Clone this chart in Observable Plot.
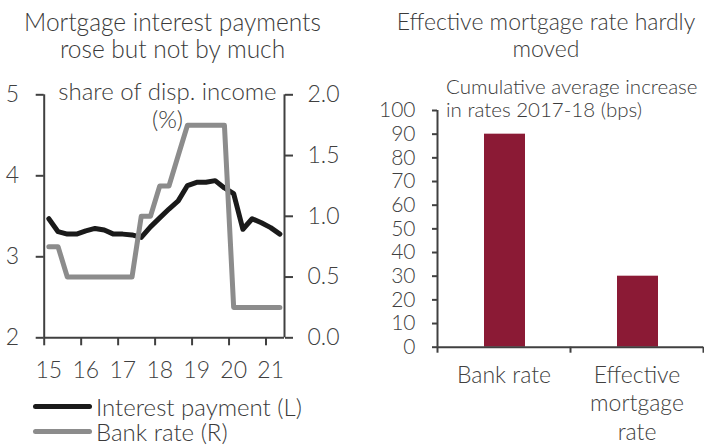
<!DOCTYPE html>
<html><head><meta charset="utf-8">
<script src="https://cdn.jsdelivr.net/npm/d3@7"></script>
<script src="https://cdn.jsdelivr.net/npm/@observablehq/plot@0.6"></script>
<style>
body{margin:0;background:#fff;}
#root{position:relative;width:704px;height:447px;overflow:hidden;font-family:Lato,sans-serif;font-weight:300;color:#3a3a3a;}
.plot{position:absolute;left:0;top:0;}
.t{position:absolute;white-space:nowrap;font-size:23px;}
.c{text-align:center;}
.sw{position:absolute;height:5px;border-radius:3px;}
</style></head><body>
<div id="root">
  <div class="t c" style="left:0;width:345px;top:8px;line-height:27px;font-size:24.5px;">Mortgage interest payments<br>rose but not by much</div>
  <div class="t c" style="left:0;width:335px;top:77px;line-height:28px;font-size:24px;">share of disp. income<br>(%)</div>
  <div class="t c" style="left:392px;width:308px;top:8px;line-height:27px;">Effective mortgage rate hardly<br>moved</div>
  <div class="t" style="left:446px;top:75px;line-height:23px;font-size:20.5px;">Cumulative average increase<br>in rates 2017-18 (bps)</div>
  <div class="sw" style="left:33px;width:59px;top:404px;background:#1a1a1a;"></div>
  <div class="sw" style="left:33px;width:59px;top:429px;background:#8c8c8c;"></div>
  <div class="t" style="left:96px;top:394px;line-height:25px;font-size:24px;">Interest payment (L)<br>Bank rate (R)</div>
</div>
<script>
// Quarterly data, 2015Q1 - 2021Q2
const quarters = ["2015Q1","2015Q2","2015Q3","2015Q4","2016Q1","2016Q2","2016Q3","2016Q4",
  "2017Q1","2017Q2","2017Q3","2017Q4","2018Q1","2018Q2","2018Q3","2018Q4",
  "2019Q1","2019Q2","2019Q3","2019Q4","2020Q1","2020Q2","2020Q3","2020Q4","2021Q1","2021Q2"];
const interestPayment = [3.47,3.31,3.28,3.28,3.32,3.35,3.33,3.28,3.28,3.27,3.24,3.37,3.48,3.59,3.69,3.88,
  3.92,3.92,3.94,3.85,3.78,3.34,3.47,3.42,3.36,3.28];
const bankRate = [0.75,0.75,0.5,0.5,0.5,0.5,0.5,0.5,0.5,0.5,1.0,1.0,1.25,1.25,1.5,1.75,
  1.75,1.75,1.75,1.75,0.25,0.25,0.25,0.25,0.25,0.25];
const yearLabels = ["15","16","17","18","19","20","21"];
const leftTicks = [2,3,4,5];
const rightTicks = [0,0.5,1.0,1.5,2.0];

const barCategories = ["Bank rate","Effective\nmortgage\nrate"];
const barValues = [90,30];
const barTicks = [0,10,20,30,40,50,60,70,80,90,100];

const axisColor = "#404040";
const root = document.getElementById("root");
const n = quarters.length;
const xDomain = [-0.5, n - 0.5];
const yearStarts = quarters.map((q,i)=>i).filter(i => i % 4 === 0);
const yearBounds = yearStarts.map(i => i - 0.5);
const series1 = interestPayment.map((v,i)=>({i, v, q: quarters[i]}));
const series2 = bankRate.map((v,i)=>({i, v, q: quarters[i]}));

const baseStyle = {fontFamily:"Lato, sans-serif", fontWeight:300, fontSize:"23px", color:axisColor, background:"transparent", overflow:"visible"};
const dims = {width:360, height:447, marginLeft:43.7, marginRight:76, marginTop:94.3, marginBottom:109.7};

const p1 = Plot.plot({
  ...dims, style: baseStyle,
  x:{domain:xDomain}, y:{domain:[2,5]},
  marks:[
    Plot.ruleX([xDomain[0]], {stroke:axisColor, strokeWidth:2}),
    Plot.ruleY([2], {stroke:axisColor, strokeWidth:2}),
    Plot.axisY({ticks:leftTicks, tickSize:8, tickPadding:17, strokeWidth:2, tickFormat:d=>String(d), label:null}),
    Plot.axisX({ticks:yearBounds, tickSize:8, strokeWidth:2, tickFormat:()=>"", label:null}),
    Plot.axisX({ticks:yearStarts, tickSize:0, tickPadding:24, tickFormat:d=>yearLabels[d/4], label:null}),
    Plot.line(series1, {x:"i", y:"v", stroke:"#1a1a1a", strokeWidth:5})
  ]
});
p1.classList.add("plot");
root.appendChild(p1);

const p2 = Plot.plot({
  ...dims, style: baseStyle,
  x:{domain:xDomain, axis:null}, y:{domain:[0,2]},
  marks:[
    Plot.ruleX([xDomain[1]], {stroke:axisColor, strokeWidth:2}),
    Plot.axisY({anchor:"right", ticks:rightTicks, tickSize:8, tickPadding:15, strokeWidth:2, tickFormat:d3.format(".1f"), label:null}),
    Plot.line(series2, {x:"i", y:"v", stroke:"#8c8c8c", strokeWidth:5})
  ]
});
p2.classList.add("plot");
root.appendChild(p2);

const p3 = Plot.plot({
  width:704, height:447, marginLeft:437, marginRight:1, marginTop:110, marginBottom:100.3,
  style: baseStyle,
  x:{domain:[0, barCategories.length]}, y:{domain:[0,100]},
  marks:[
    Plot.rectY(barValues, {x1:(d,i)=>i, x2:(d,i)=>i+1, y1:0, y2:d=>d, insetLeft:47, insetRight:45, fill:"#8b1a35"}),
    Plot.ruleX([0], {stroke:axisColor, strokeWidth:2}),
    Plot.ruleY([0], {stroke:axisColor, strokeWidth:2}),
    Plot.axisY({ticks:barTicks, tickSize:5, tickPadding:17, strokeWidth:2, fontSize:21, tickFormat:d=>String(d), label:null}),
    Plot.axisX({ticks:barCategories.map((c,i)=>i).concat([barCategories.length]), tickSize:6, strokeWidth:2, tickFormat:()=>"", label:null}),
    Plot.axisX({ticks:barCategories.map((c,i)=>i+0.5), tickSize:0, tickPadding:15, lineHeight:1.25, tickFormat:d=>barCategories[Math.floor(d)], label:null})
  ]
});
p3.classList.add("plot");
root.appendChild(p3);
</script>
</body></html>
